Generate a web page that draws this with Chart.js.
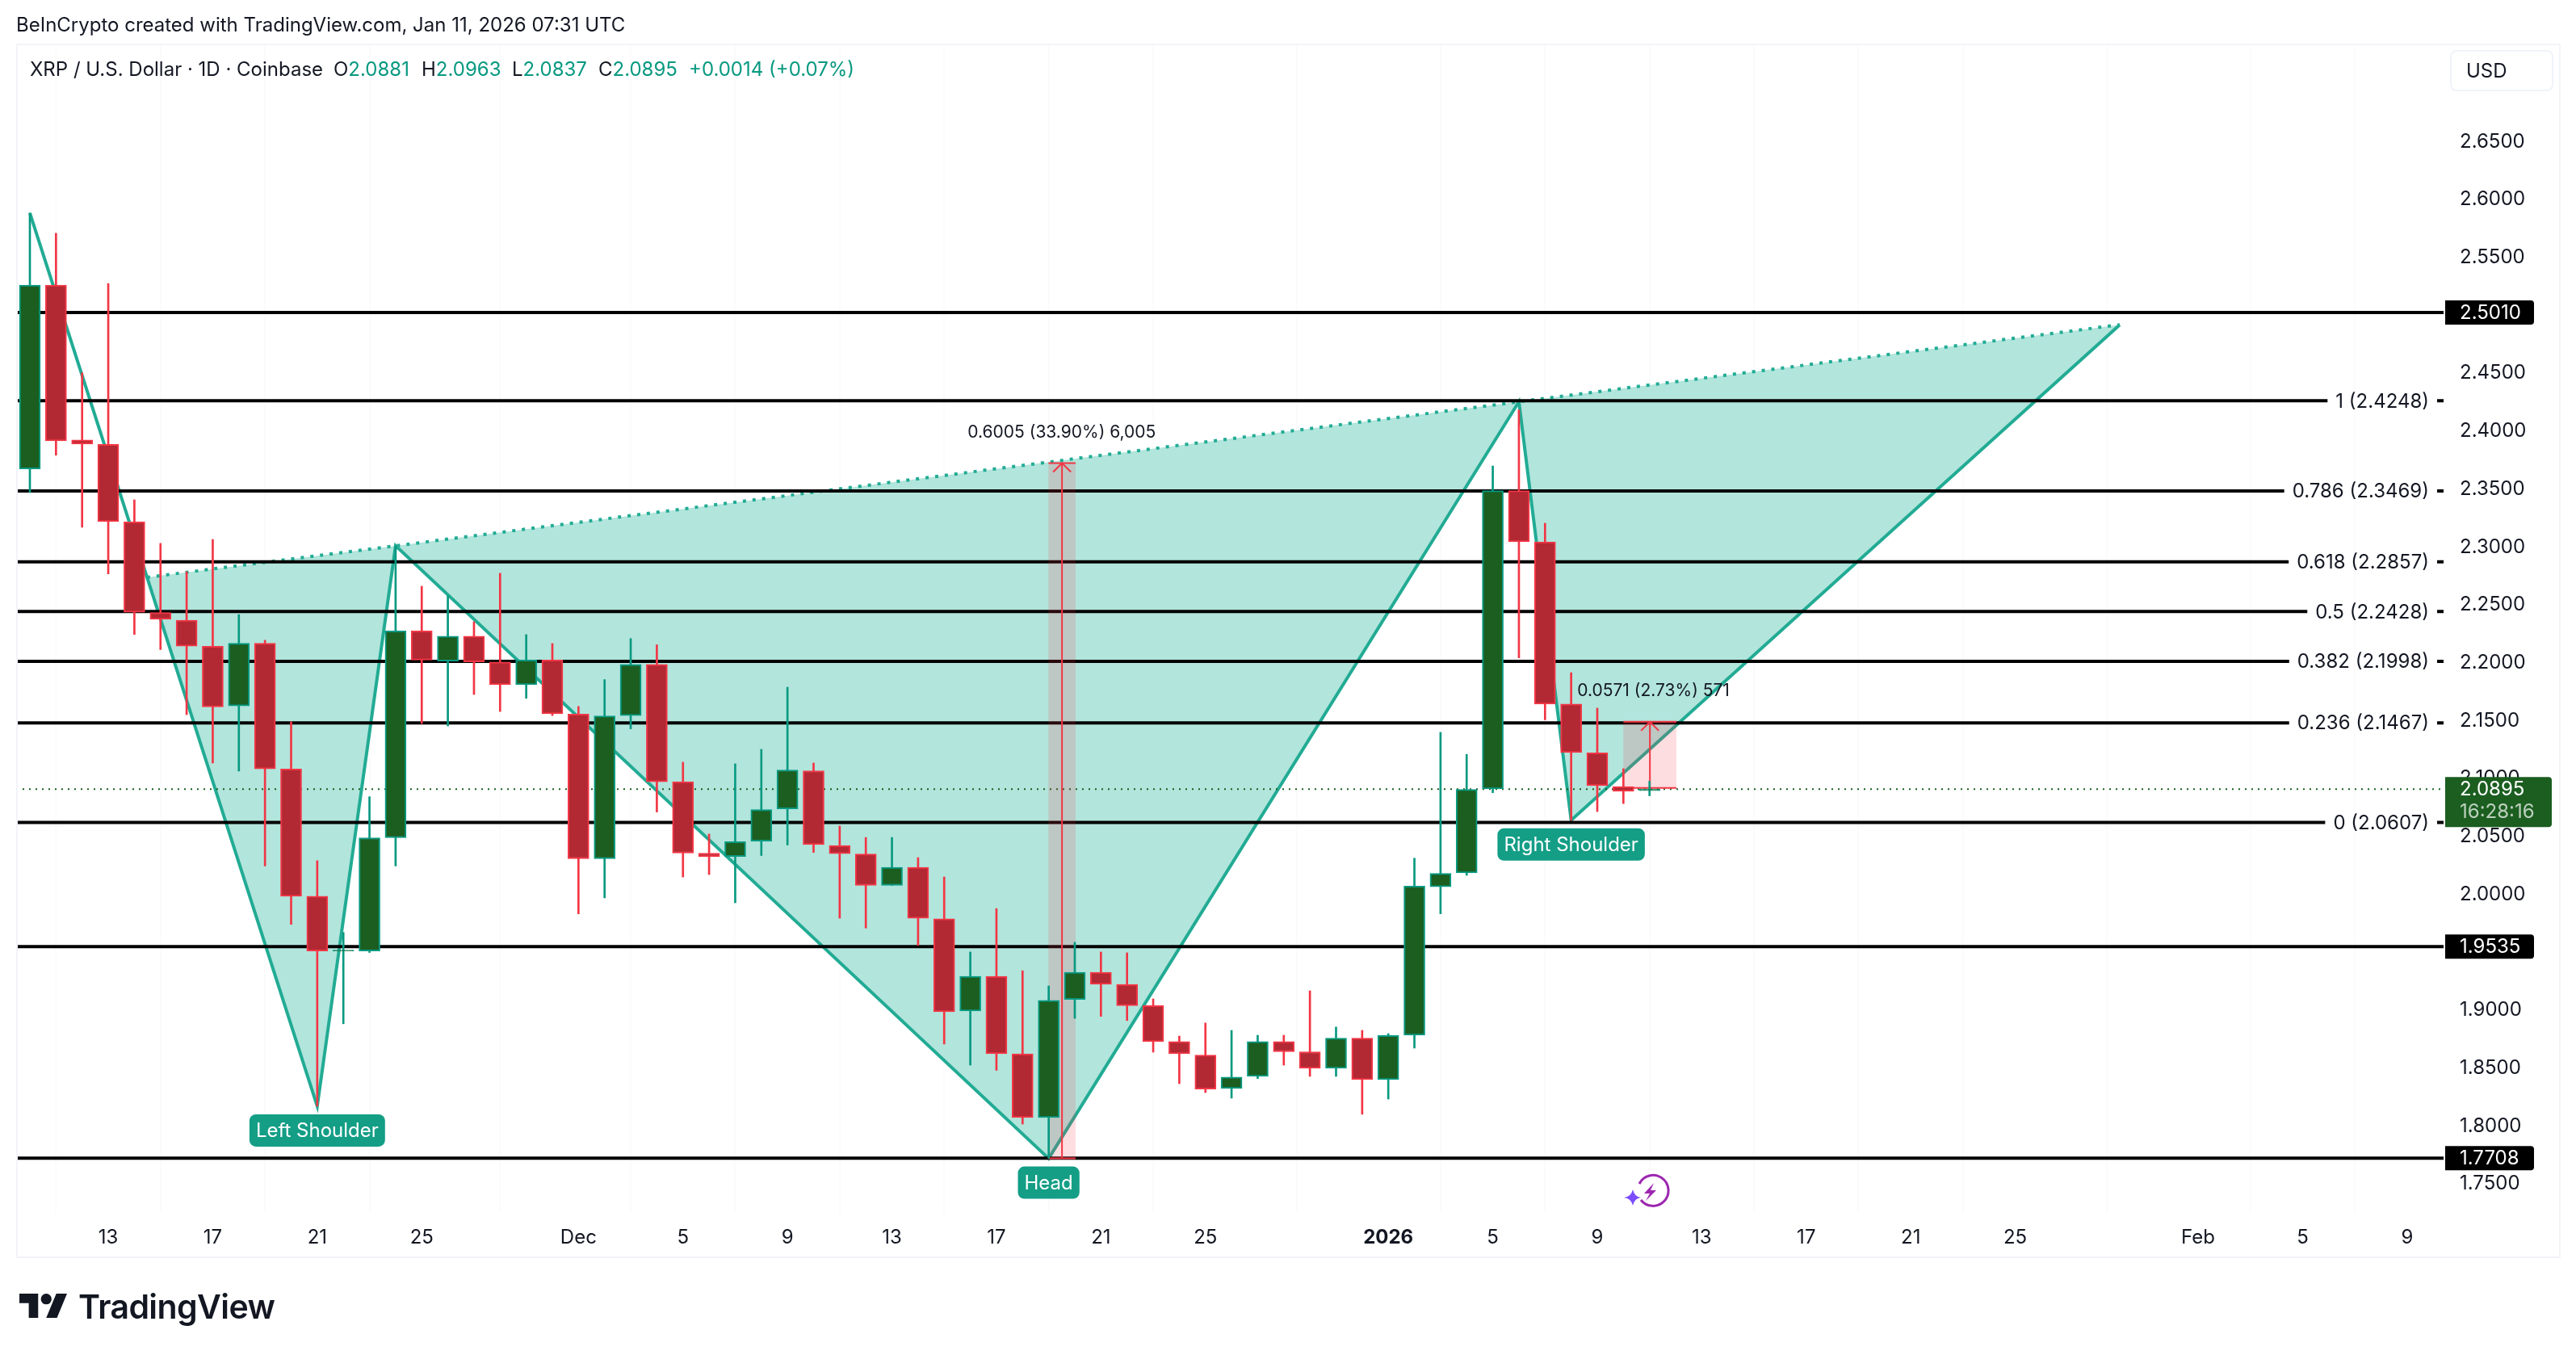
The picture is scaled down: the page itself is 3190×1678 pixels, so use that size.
<!DOCTYPE html>
<html>
<head>
<meta charset="utf-8">
<title>XRP / U.S. Dollar</title>
<script src="https://cdn.jsdelivr.net/npm/chart.js@4"></script>
<style>
  html, body { margin: 0; padding: 0; background: #fff; }
  body { width: 3190px; height: 1678px; position: relative; overflow: hidden; font-family: Inter, sans-serif; color: #131722; }
  canvas { position: absolute; left: 0; top: 0; }
  .frame { position: absolute; left: 20px; top: 54px; width: 3151px; height: 1504px; border: 2px solid #f3f4f7; box-sizing: border-box; }
  .t { position: absolute; white-space: pre; font-size: 24px; line-height: 30px; }
  .g { color: #089981; }
  .usd { position: absolute; left: 3034px; top: 62px; width: 128px; height: 51px; border: 2px solid #f0f3fa; border-radius: 8px; box-sizing: border-box; font-size: 24px; line-height: 47px; padding-left: 18px; }
  .logo { position: absolute; left: 24px; top: 1602px; }
  .brand { position: absolute; left: 97px; top: 1593px; font-size: 41px; line-height: 50px; font-weight: 600; letter-spacing: -0.6px; }
  .spark { position: absolute; left: 2010px; top: 1450px; }
</style>
</head>
<body>
<canvas id="xrpChart" width="3190" height="1678"></canvas>
<div class="frame"></div>
<div class="t" style="left:20px;top:16px">BeInCrypto created with TradingView.com, Jan 11, 2026 07:31 UTC</div>
<div class="t" style="left:37px;top:71px">XRP / U.S. Dollar · 1D · Coinbase</div>
<div class="t" style="left:413px;top:71px">O<span class="g">2.0881</span></div>
<div class="t" style="left:522px;top:71px">H<span class="g">2.0963</span></div>
<div class="t" style="left:634px;top:71px">L<span class="g">2.0837</span></div>
<div class="t" style="left:741px;top:71px">C<span class="g">2.0895</span></div>
<div class="t g" style="left:853px;top:71px">+0.0014 (+0.07%)</div>
<div class="usd">USD</div>
<svg class="logo" width="59" height="30" viewBox="0 4 35.5 18" preserveAspectRatio="none"><path fill="#131722" d="M14 22H7V11H0V4h14v18zM28 22h-8l7.5-18h8L28 22z"/><circle fill="#131722" cx="20" cy="8" r="4"/></svg>
<div class="brand">TradingView</div>
<svg class="spark" width="60" height="50" viewBox="0 0 60 50">
  <path d="M20 16 A19 19 0 1 1 22 36" fill="none" stroke="#9c27b0" stroke-width="3"/>
  <path d="M38 15 L26 28 L33 28 L28 37 L41 24 L34 24 Z" fill="#9c27b0"/>
  <path d="M12 23 Q14 32 22 33 Q14 34 12 43 Q10 34 1 33 Q10 32 12 23 Z" fill="#7c4dff"/>
</svg>
<script>
// candles, one per day, index 0 = Nov 10
const days = [];
const opens = [2.3661,2.5248,2.3910,2.3871,2.3202,2.2419,2.2354,2.2129,2.1614,2.2154,2.1068,1.9970,1.9497,1.9496,2.0474,2.2261,2.2001,2.2215,2.1993,2.1797,2.2009,2.1543,2.0293,2.1530,2.1972,2.0958,2.0342,2.0313,2.0445,2.0725,2.1053,2.0408,2.0334,2.0063,2.0220,1.9775,1.8979,1.9277,1.8609,1.8058,1.9078,1.9313,1.9208,1.9025,1.8714,1.8598,1.8309,1.8414,1.8714,1.8626,1.8483,1.8744,1.8386,1.8769,2.0052,2.0171,2.0896,2.3472,2.3030,2.1629,2.1207,2.0917,2.0881];
const highs = [2.5869,2.5696,2.4490,2.5262,2.3393,2.3017,2.2772,2.3050,2.2402,2.2180,2.1477,2.0276,1.9657,2.0829,2.2996,2.2647,2.2563,2.2340,2.2759,2.2229,2.2152,2.1608,2.1840,2.2195,2.2141,2.1127,2.0507,2.1113,2.1238,2.1775,2.1120,2.0576,2.0477,2.0477,2.0303,2.0136,1.9488,1.9863,1.9326,1.9195,1.9572,1.9488,1.9481,1.9083,1.8762,1.8875,1.8811,1.8769,1.8769,1.9153,1.8840,1.8811,1.8783,2.0298,2.1385,2.1195,2.3686,2.4170,2.3191,2.1900,2.1594,2.1071,2.0963];
const lows = [2.3456,2.3778,2.3156,2.2753,2.2230,2.2100,2.1538,2.1120,2.1050,2.0230,1.9727,1.8156,1.8868,1.9484,2.0230,2.1461,2.1440,2.1712,2.1565,2.1679,2.1530,1.9817,1.9955,2.1415,2.0697,2.0136,2.0157,1.9913,2.0321,2.0412,2.0348,1.9780,1.9695,2.0063,1.9545,1.8693,1.8511,1.8466,1.8002,1.7705,1.8915,1.8932,1.8896,1.8623,1.8351,1.8274,1.8226,1.8395,1.8511,1.8414,1.8414,1.8087,1.8218,1.8658,1.9818,2.0150,2.0864,2.2028,2.1493,2.0626,2.0701,2.0770,2.0837];
const closes = [2.5248,2.3902,2.3874,2.3205,2.2423,2.2362,2.2129,2.1605,2.2154,2.1070,1.9970,1.9496,1.9504,2.0474,2.2261,2.2009,2.2215,2.1993,2.1797,2.2009,2.1545,2.0293,2.1526,2.1972,2.0958,2.0342,2.0311,2.0441,2.0717,2.1060,2.0415,2.0338,2.0063,2.0220,1.9780,1.8972,1.9277,1.8609,1.8058,1.9070,1.9313,1.9209,1.9025,1.8714,1.8609,1.8305,1.8408,1.8714,1.8626,1.8483,1.8744,1.8386,1.8767,2.0057,2.0167,2.0892,2.3472,2.3030,2.1629,2.1210,2.0924,2.0876,2.0895];
opens.forEach((_, i) => days.push(i));

// axis ticks
const yTicks = [1.75,1.8,1.85,1.9,1.95,2.0,2.05,2.1,2.15,2.2,2.25,2.3,2.35,2.4,2.45,2.5,2.55,2.6,2.65];
const xTickDays = [3,7,11,15,21,25,29,33,37,41,45,52,56,60,64,68,72,76,83,87,91];
const xTickLabels = ['13','17','21','25','Dec','5','9','13','17','21','25','2026','5','9','13','17','21','25','Feb','5','9'];

// head and shoulders pattern pivots
const pivotDays = [0,11,14,39,57,59,80];
const pivotPrices = [2.5869,1.8156,2.2996,1.7705,2.4240,2.0626,2.4905];
const necklineDays = [4.48,14,57,80];
const necklinePrices = [2.2724,2.2996,2.4240,2.4905];

// horizontal levels
const blackLevels = [2.5010,1.9535,1.7708];
const fibLevels = [2.4248,2.3469,2.2857,2.2428,2.1998,2.1467,2.0607];
const fibNames = ['1','0.786','0.618','0.5','0.382','0.236','0'];
const lastPrice = 2.0895;

// price range measures
const measureFromDay = [38.99,61];
const measureToDay = [40.03,63.03];
const measureLow = [1.7705,2.0905];
const measureHigh = [2.3710,2.1476];
const measureTexts = ['0.6005 (33.90%) 6,005','0.0571 (2.73%) 571'];
const measureTextDay = [39.5,62.15];

// callouts
const calloutTexts = ['Left Shoulder','Head','Right Shoulder'];
const calloutDays = [11,39,59];
const calloutPrices = [1.8156,1.7705,2.0626];

const GREEN_BODY = '#1b5e20', GREEN_EDGE = '#089981', RED_BODY = '#b22833', RED_EDGE = '#f23645';
const TEAL = '#22ab94', TEAL_FILL = 'rgb(178,229,220)', TEXT = '#131722';
const FONT = 'Inter, sans-serif';
const XMIN = -0.5255, XMAX = 92.396;

const isUp = days.map(i => closes[i] >= opens[i]);
const pts = (xs, ys) => xs.map((x, i) => ({ x: x, y: ys[i] }));

function lineSet(data, color, width, order, extra) {
    return Object.assign({
        type: 'line', data: data, borderColor: color, borderWidth: width,
        pointRadius: 0, fill: false, tension: 0, order: order
    }, extra || {});
}

const datasets = [];

// filled triangles of the pattern
[
    [[necklineDays[0], pivotDays[1], pivotDays[2]], [necklinePrices[0], pivotPrices[1], pivotPrices[2]]],
    [[pivotDays[2], pivotDays[3], pivotDays[4]], [pivotPrices[2], pivotPrices[3], pivotPrices[4]]],
    [[pivotDays[4], pivotDays[5], pivotDays[6]], [pivotPrices[4], pivotPrices[5], pivotPrices[6]]]
].forEach(t => {
    const p = pts(t[0], t[1]);
    p.push(p[0]);
    datasets.push(lineSet(p, 'rgba(0,0,0,0)', 0, 20, { fill: 'shape', backgroundColor: TEAL_FILL }));
});
datasets.push(lineSet(pts(pivotDays, pivotPrices), TEAL, 4, 19));
datasets.push(lineSet(pts(necklineDays, necklinePrices), TEAL, 4, 19, { borderDash: [4, 8] }));

// levels
blackLevels.concat(fibLevels).forEach(v => {
    datasets.push(lineSet(pts([XMIN, XMAX], [v, v]), '#000', 4, 18));
});
datasets.push(lineSet(pts([XMIN, XMAX], [lastPrice, lastPrice]), GREEN_BODY, 2, 17, { borderDash: [2, 6] }));

// measure bands
measureFromDay.forEach((d, i) => {
    const a = d, b = measureToDay[i], lo = measureLow[i], hi = measureHigh[i];
    datasets.push(lineSet(pts([a, b, b, a, a], [lo, lo, hi, hi, lo]), 'rgba(0,0,0,0)', 0, 16,
        { fill: 'shape', backgroundColor: 'rgba(242,54,69,0.17)' }));
    datasets.push(lineSet(pts([a, b], [hi, hi]), RED_EDGE, 2, 15));
    datasets.push(lineSet(pts([a, b], [lo, lo]), RED_EDGE, 2, 15));
    const mid = (a + b) / 2;
    datasets.push(lineSet(pts([mid, mid], [lo, hi]), RED_EDGE, 2, 15));
});

// wicks and bodies
const wickIndex = datasets.length;
datasets.push({
    type: 'bar', data: days.map(i => ({ x: i, y: [lows[i], highs[i]] })),
    backgroundColor: days.map(i => isUp[i] ? GREEN_EDGE : RED_EDGE),
    barThickness: 2, grouped: false, order: 6, borderWidth: 0
});
datasets.push({
    type: 'bar', data: days.map(i => ({ x: i, y: [opens[i], closes[i]] })),
    backgroundColor: days.map(i => isUp[i] ? GREEN_BODY : RED_BODY),
    borderColor: days.map(i => isUp[i] ? GREEN_EDGE : RED_EDGE),
    barThickness: 26, grouped: false, order: 5, borderWidth: 2, borderSkipped: false
});

function roundBox(ctx, x, y, w, h, r, color) {
    ctx.fillStyle = color;
    ctx.beginPath();
    ctx.roundRect(x, y, w, h, r);
    ctx.fill();
}

const annotations = {
    id: 'annotations',
    beforeDatasetDraw(chart, args) {
        if (args.index !== wickIndex) return;
        const { x: sx, y: sy } = chart.scales;
        const ctx = chart.ctx;
        ctx.save();
        // arrow heads
        measureFromDay.forEach((d, i) => {
            const cx = sx.getPixelForValue((d + measureToDay[i]) / 2), top = sy.getPixelForValue(measureHigh[i]);
            ctx.strokeStyle = RED_EDGE;
            ctx.lineWidth = 2;
            ctx.beginPath();
            ctx.moveTo(cx - 11, top + 11);
            ctx.lineTo(cx, top);
            ctx.lineTo(cx + 11, top + 11);
            ctx.stroke();
        });
        // measure captions
        ctx.fillStyle = TEXT;
        ctx.font = '21px ' + FONT;
        ctx.textAlign = 'center';
        ctx.textBaseline = 'middle';
        measureTexts.forEach((t, i) => {
            ctx.fillText(t, sx.getPixelForValue(measureTextDay[i]), sy.getPixelForValue(measureHigh[i]) - 38);
        });
        ctx.restore();
    },
    afterDatasetsDraw(chart) {
        const { x: sx, y: sy } = chart.scales;
        const ctx = chart.ctx;
        const right = chart.chartArea.right;
        ctx.save();
        ctx.textBaseline = 'middle';

        // callouts below the pivots
        ctx.font = '24px ' + FONT;
        ctx.textAlign = 'center';
        calloutTexts.forEach((t, i) => {
            const cx = sx.getPixelForValue(calloutDays[i]), cy = sy.getPixelForValue(calloutPrices[i]) + 30;
            const w = ctx.measureText(t).width + 16;
            roundBox(ctx, cx - w / 2, cy - 20, w, 40, 8, '#149e86');
            ctx.fillStyle = '#fff';
            ctx.fillText(t, cx, cy + 1);
        });

        // fib labels sitting on their lines
        ctx.font = '24px ' + FONT;
        ctx.textAlign = 'right';
        fibLevels.forEach((v, i) => {
            const t = fibNames[i] + ' (' + v.toFixed(4) + ')';
            const w = ctx.measureText(t).width, y = sy.getPixelForValue(v);
            ctx.fillStyle = '#fff';
            ctx.fillRect(right - 18 - w - 10, y - 4, w + 20, 8);
            ctx.fillStyle = TEXT;
            ctx.fillText(t, right - 18, y + 1);
        });

        // price tags on the axis
        ctx.textAlign = 'left';
        blackLevels.forEach(v => {
            const y = sy.getPixelForValue(v);
            roundBox(ctx, right + 2, y - 15, 110, 30, [0, 4, 4, 0], '#000');
            ctx.fillStyle = '#fff';
            ctx.fillText(v.toFixed(4), right + 20, y + 1);
        });
        const ly = sy.getPixelForValue(lastPrice);
        roundBox(ctx, right + 2, ly - 15, 132, 62, [0, 4, 4, 0], GREEN_BODY);
        ctx.fillStyle = '#fff';
        ctx.fillText(lastPrice.toFixed(4), right + 20, ly + 1);
        ctx.fillStyle = 'rgba(255,255,255,0.7)';
        ctx.fillText('16:28:16', right + 20, ly + 29);
        ctx.restore();
    }
};

new Chart(document.getElementById('xrpChart'), {
    type: 'bar',
    data: { datasets: datasets },
    plugins: [annotations],
    options: {
        responsive: false,
        animation: false,
        devicePixelRatio: 1,
        layout: { padding: { left: 20, top: 54, right: 19, bottom: 120 } },
        plugins: { legend: { display: false }, tooltip: { enabled: false }, filler: { drawTime: 'beforeDatasetDraw' } },
        scales: {
            x: {
                type: 'linear', min: XMIN, max: XMAX, offset: false,
                border: { display: false },
                grid: { color: '#fbfbfc', lineWidth: 2, drawTicks: false },
                afterBuildTicks(axis) { axis.ticks = xTickDays.map(v => ({ value: v })); },
                afterFit(axis) { axis.height = 56; },
                ticks: {
                    autoSkip: false, maxRotation: 0, padding: 16, color: TEXT,
                    font: c => ({ family: FONT, size: 24, weight: xTickLabels[c.index] === '2026' ? 'bold' : 'normal' }),
                    callback(value, index) { return xTickLabels[index]; }
                }
            },
            y: {
                type: 'linear', position: 'right', min: 1.7235, max: 2.7333,
                border: { display: false },
                grid: { display: false, drawTicks: false },
                afterBuildTicks(axis) { axis.ticks = yTicks.map(v => ({ value: v })); },
                afterFit(axis) { axis.width = 145; },
                ticks: {
                    autoSkip: false, padding: 20, labelOffset: 2, color: TEXT, font: { family: FONT, size: 24 },
                    callback(value) { return value.toFixed(4); }
                }
            }
        }
    }
});
</script>
</body>
</html>
